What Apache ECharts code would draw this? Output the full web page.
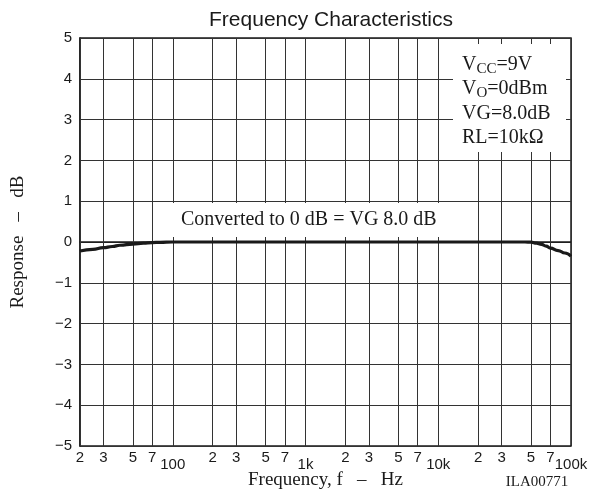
<!DOCTYPE html>
<html><head><meta charset="utf-8">
<script src="https://cdn.jsdelivr.net/npm/echarts@6/dist/echarts.min.js"></script>
<style>html,body{margin:0;padding:0;background:#fff}#c{width:591px;height:499px}</style>
</head><body><div id="c"></div>
<script>
// Frequency response curve (Hz, dB)
const freqHz     = [20, 25, 30, 35, 40, 50, 60, 70, 80, 100, 1000, 10000, 40000, 45000, 50000, 55000, 60000, 65000, 70000, 80000, 90000, 100000];
const responseDb = [-0.22, -0.18, -0.14, -0.11, -0.08, -0.05, -0.03, -0.015, -0.008, 0, 0, 0, 0, 0, -0.005, -0.03, -0.06, -0.1, -0.15, -0.21, -0.27, -0.35];

// x grid lines / tick labels
const minorHz     = [20, 30, 50, 70, 200, 300, 500, 700, 2000, 3000, 5000, 7000, 20000, 30000, 50000, 70000];
const minorLabels = ['2','3','5','7','2','3','5','7','2','3','5','7','2','3','5','7'];
const decadeHz     = [100, 1000, 10000, 100000];
const decadeLabels = ['100', '1k', '10k', '100k'];

// y axis
const yMin = -5, yMax = 5, yStep = 1;

const serif = 'Liberation Serif, Times New Roman, serif';
const sans = 'Liberation Sans, Arial, sans-serif';
const ink = '#1a1a1a';

const gridLineData = [];
minorHz.forEach((f, i) => gridLineData.push({
  xAxis: f,
  label: { formatter: minorLabels[i], distance: 4 }
}));
decadeHz.forEach((f, i) => gridLineData.push({
  xAxis: f,
  label: { formatter: decadeLabels[i], distance: 11 }
}));

const chart = echarts.init(document.getElementById('c'), null, { renderer: 'canvas' });
chart.setOption({
  animation: false,
  backgroundColor: '#fff',
  title: {
    text: 'Frequency Characteristics',
    left: 326, top: 5, textAlign: 'center',
    textStyle: { fontFamily: sans, fontSize: 21, fontWeight: 'normal', color: ink }
  },
  grid: { left: 80, top: 38, right: 20, bottom: 53, show: true, borderColor: ink, borderWidth: 1.5, backgroundColor: 'transparent' },
  xAxis: {
    type: 'log', logBase: 10, min: 20, max: 100000,
    axisLine: { show: true, lineStyle: { color: ink, width: 1.5 } },
    axisTick: { show: false }, axisLabel: { show: false }, splitLine: { show: false },
    name: 'Frequency, f   \u2013   Hz', nameLocation: 'middle', nameGap: 25,
    nameTextStyle: { fontFamily: serif, fontSize: 19, color: ink }
  },
  yAxis: {
    type: 'value', min: yMin, max: yMax, interval: yStep,
    axisLine: { show: true, lineStyle: { color: ink, width: 1.5 } },
    axisTick: { show: false },
    axisLabel: {
      margin: 8, fontFamily: sans, fontSize: 15, color: ink,
      formatter: v => v < 0 ? '\u2212' + (-v) : String(v)
    },
    splitLine: { show: true, lineStyle: { color: '#333', width: 1 } },
    name: 'Response   \u2013   dB', nameLocation: 'middle', nameGap: 52,
    nameTextStyle: { fontFamily: serif, fontSize: 19, color: ink }
  },
  graphic: [
    { type: 'rect', z: 50, shape: { x: 173, y: 203, width: 282, height: 34 }, style: { fill: '#fff' } },
    { type: 'text', z: 51, x: 181, y: 220, style: {
        text: 'Converted to 0 dB = VG 8.0 dB', fontFamily: serif, fontSize: 20, fill: ink, verticalAlign: 'middle'
    } },
    { type: 'rect', z: 50, shape: { x: 453, y: 44, width: 113, height: 108 }, style: { fill: '#fff' } },
    { type: 'text', z: 51, x: 462, y: 52, style: {
        text: '{n|V}{s|CC}{n|=9V}\n{n|V}{s|O}{n|=0dBm}\n{n|VG=8.0dB}\n{n|RL=10k\u03A9}',
        fill: ink,
        rich: {
          n: { fontFamily: serif, fontSize: 20, lineHeight: 24.5, verticalAlign: 'middle', fill: ink },
          s: { fontFamily: serif, fontSize: 15, lineHeight: 15, verticalAlign: 'bottom', fill: ink }
        }
    } },
    { type: 'text', z: 51, x: 537, y: 482, style: {
        text: 'ILA00771', fontFamily: serif, fontSize: 15, fill: ink, align: 'center', verticalAlign: 'middle'
    } }
  ],
  series: [
    {
      type: 'line', z: 1, data: [[20, yMin]], symbol: 'none', lineStyle: { opacity: 0 }, silent: true,
      markLine: {
        silent: true, symbol: ['none', 'none'], animation: false,
        lineStyle: { color: '#333', width: 1, type: 'solid' },
        label: { show: true, position: 'start', fontFamily: sans, fontSize: 15, color: ink },
        emphasis: { disabled: true },
        data: gridLineData
      }
    },
    {
      type: 'line', z: 5, data: freqHz.map((f, i) => [f, responseDb[i]]),
      symbol: 'none', smooth: true, smoothMonotone: 'x',
      lineStyle: { color: ink, width: 3.2 }, silent: true
    }
  ]
});
</script></body></html>
